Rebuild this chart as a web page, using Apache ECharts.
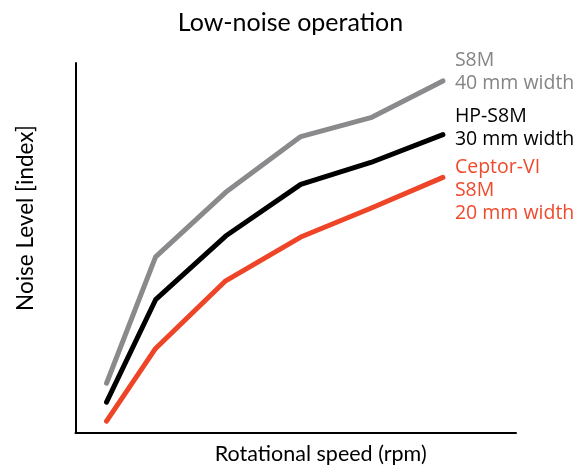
<!DOCTYPE html>
<html>
<head>
<meta charset="utf-8">
<script src="https://cdn.jsdelivr.net/npm/echarts@6/dist/echarts.min.js"></script>
<style>html,body{margin:0;padding:0;background:#fff}#c{width:581px;height:470px}</style>
</head>
<body>
<div id="c"></div>
<script>
const speeds = [31, 80, 150, 225, 295, 367];
const s8m40 = [50, 177, 242, 298, 317, 354];
const hp30 = [31, 134, 198, 250, 272, 300];
const ceptor20 = [12, 85, 153, 197, 226, 257];
const seriesNames = ['S8M\n40 mm width', 'HP-S8M\n30 mm width', 'Ceptor-VI\nS8M\n20 mm width'];
const lineColors = ['#8a8a8c', '#000000', '#ee4528'];
const labelColors = ['#858585', '#000000', '#f04a2c'];
const labelOffsets = [[4, -9], [4, -7], [4, 13]];
const FONT = 'Lato';
const LABEL_FONT = 'Open Sans';

const chart = echarts.init(document.getElementById('c'), null, {renderer: 'canvas'});
const datasets = [s8m40, hp30, ceptor20];
chart.setOption({
  animation: false,
  title: {
    text: 'Low-noise operation', left: 'center', top: 5,
    textStyle: {fontFamily: FONT, fontWeight: 'normal', fontSize: 25, color: '#000'}
  },
  grid: {left: 75.5, right: 65, top: 63, bottom: 35, containLabel: false},
  xAxis: {
    type: 'value', min: 0, max: 440,
    name: 'Rotational speed (rpm)', nameLocation: 'middle', nameGap: 10,
    nameTextStyle: {fontFamily: FONT, fontSize: 21.5, color: '#000', padding: [0, 0, 0, 50], verticalAlign: 'top'},
    axisLine: {show: true, lineStyle: {color: '#000', width: 2}},
    axisTick: {show: false}, axisLabel: {show: false}, splitLine: {show: false}
  },
  yAxis: {
    type: 'value', min: 0, max: 372,
    axisLine: {show: true, lineStyle: {color: '#000', width: 2}},
    axisTick: {show: false}, axisLabel: {show: false}, splitLine: {show: false}
  },
  graphic: [{
    type: 'text', x: 26, y: 218, rotation: Math.PI / 2,
    style: {
      text: 'Noise Level [index]', fontFamily: FONT, fontSize: 22.5, fill: '#000',
      align: 'center', verticalAlign: 'middle'
    }
  }],
  series: datasets.map((d, i) => ({
    type: 'line', name: seriesNames[i],
    data: d.map((v, j) => [speeds[j], v]),
    symbol: 'none', z: 3 - i,
    lineStyle: {color: lineColors[i], width: 5, cap: 'round', join: 'round'},
    endLabel: {
      show: true, formatter: '{a}', color: labelColors[i],
      fontFamily: LABEL_FONT, fontSize: 19.5, lineHeight: 23, align: 'left',
      offset: labelOffsets[i]
    }
  }))
});
</script>
</body>
</html>
